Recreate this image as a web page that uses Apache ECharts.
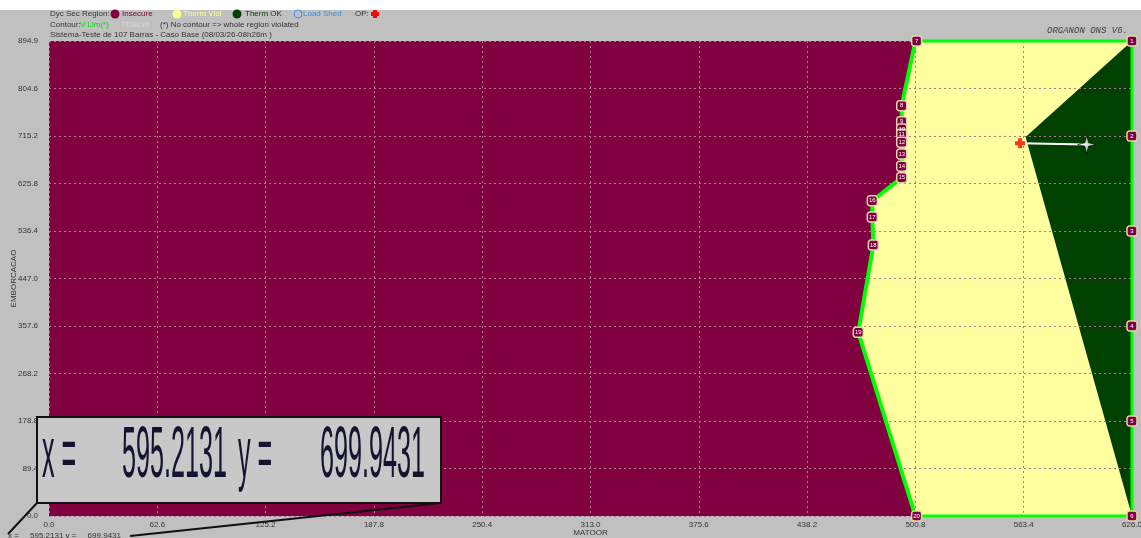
<!DOCTYPE html>
<html><head><meta charset="utf-8">
<script src="https://cdn.jsdelivr.net/npm/echarts@6/dist/echarts.min.js"></script>
<style>html,body{margin:0;padding:0;background:#c0c0c0;overflow:hidden}#c{width:1141px;height:538px;}</style>
</head><body><div id="c"></div>
<script>
// ---- data ----
const xTickLabels = ['0.0','62.6','125.2','187.8','250.4','313.0','375.6','438.2','500.8','563.4','626.0'];
const yTickLabels = ['0.0','89.4','178.8','268.2','357.6','447.0','536.4','625.8','715.2','804.6','894.9'];
const xMax = 626.0, yMax = 894.9;

// security boundary (V Lim contour), top to bottom
const boundaryX = [500.8, 492.9, 492.9, 492.9, 492.9, 492.9, 492.9, 492.9, 492.9, 475.9, 475.9, 476.5, 467.8, 500.8];
const boundaryY = [894.9, 773.0, 742.8, 729.1, 719.0, 704.1, 682.0, 658.8, 637.4, 594.0, 563.3, 510.6, 346.1, 0.0];

// numbered boundary points
const markerX = [501.5, 492.9, 492.9, 492.9, 492.9, 492.9, 492.9, 492.9, 492.9, 475.9, 475.9, 476.5, 467.8, 501.5, 626.0, 626.0, 626.0, 626.0, 626.0, 626.0];
const markerY = [894.9, 773.0, 742.8, 729.1, 719.0, 704.1, 682.0, 658.8, 637.4, 594.0, 563.3, 510.6, 346.1, 0.0, 894.9, 715.9, 536.9, 358.0, 179.0, 0.0];
const markerLabels = ['7','8','9','10','11','12','13','14','15','16','17','18','19','20','1','2','3','4','5','6'];

// thermal OK region
const thermOkX = [626.0, 564.5, 626.0];
const thermOkY = [894.9, 714.0, 0.0];

// operating point and cursor
const opX = [561.3], opY = [702.2];
const cursorX = [599.8], cursorY = [699.9];

// ---- build ----
const C_INSECURE = '#800040', C_VIOL = '#ffffa0', C_OK = '#004000', C_LINE = '#00ff00';

function poly(xs, ys, color, z) {
  return {
    type: 'custom', coordinateSystem: 'cartesian2d', z: z, silent: true, clip: false,
    data: xs.map((x, i) => [x, ys[i]]),
    renderItem: function (params, api) {
      if (params.dataIndex !== 0) return null;
      const pts = xs.map((x, i) => api.coord([x, ys[i]]));
      return { type: 'polygon', shape: { points: pts }, style: { fill: color } };
    }
  };
}

const insecX = [0, 0].concat(boundaryX, [0]);
const insecY = [0, yMax].concat(boundaryY, [0]);
const violX = boundaryX.concat([xMax, xMax]);
const violY = boundaryY.concat([0, yMax]);

const frameX = [boundaryX[0], xMax, xMax, boundaryX[boundaryX.length - 1]];
const frameY = [yMax, yMax, 0, 0];

const FONT = '"Liberation Sans", Arial, sans-serif';
function t(x, y, text, fill, size) {
  return { type: 'text', x: x, y: y, z: 50,
    style: { text: text, fill: fill, font: (size || 8) + 'px ' + FONT, verticalAlign: 'middle', align: 'left' } };
}
function big(x, text) {
  return { type: 'text', x: x, y: 457, scaleX: 0.35, z: 61,
    style: { text: text, fill: '#141430', font: '72px ' + FONT, verticalAlign: 'middle', align: 'left' } };
}

const graphics = [
  { type: 'rect', shape: { x: 0, y: 0, width: 1141, height: 10 }, style: { fill: '#ffffff' }, z: 40 },
  t(50, 14, 'Dyc Sec Region:', '#333'),
  { type: 'circle', shape: { cx: 115, cy: 14, r: 4.5 }, style: { fill: C_INSECURE }, z: 50 },
  t(122, 14, 'Insecure', C_INSECURE),
  { type: 'circle', shape: { cx: 177, cy: 14, r: 4.5 }, style: { fill: '#ffff90' }, z: 50 },
  t(183, 14, 'Therm Viol', '#ffff90'),
  { type: 'circle', shape: { cx: 237, cy: 14, r: 4.5 }, style: { fill: '#004000' }, z: 50 },
  t(245, 14, 'Therm OK', '#004000'),
  { type: 'circle', shape: { cx: 298, cy: 14, r: 4 }, style: { fill: 'none', stroke: '#3090ff', lineWidth: 1 }, z: 50 },
  t(303, 14, 'Load Shed', '#3090ff'),
  t(355, 14, 'OP:', '#333'),
  { type: 'polygon', shape: { points: [[373,10],[377,10],[377,12],[379,12],[379,16],[377,16],[377,18],[373,18],[373,16],[371,16],[371,12],[373,12]] }, style: { fill: '#ff0000' }, z: 50 },
  t(50, 25, 'Contour:', '#333'),
  t(80, 25, 'V Lim(*)', '#00e000'),
  t(121, 25, 'TDSCrit', '#d8d8d8'),
  t(160, 25, '(*) No contour => whole region violated', '#333'),
  t(50, 35, 'Sistema-Teste de 107 Barras - Caso Base (08/03/26-08h26m )', '#333'),
  { type: 'text', x: 1047, y: 31, z: 50, style: { text: 'ORGANON ONS V6.', fill: '#404040', font: 'italic 9px "Liberation Mono", "DejaVu Sans Mono", monospace', verticalAlign: 'middle', align: 'left' } },
  // magnifier callout
  { type: 'rect', shape: { x: 37, y: 417, width: 404, height: 86 }, style: { fill: '#c8c8c8', stroke: '#111', lineWidth: 2 }, z: 60 },
  { type: 'line', shape: { x1: 37, y1: 503, x2: 8, y2: 534 }, style: { stroke: '#111', lineWidth: 2 }, z: 60 },
  { type: 'line', shape: { x1: 441, y1: 503, x2: 130, y2: 536 }, style: { stroke: '#111', lineWidth: 2 }, z: 60 },
  big(42, 'x ='),
  big(122, '595.2131'),
  big(238, 'y ='),
  big(320, '699.9431'),
  t(8, 536, 'x =     595.2131 y =     699.9431', '#333')
];

const chart = echarts.init(document.getElementById('c'), null, { renderer: 'canvas' });
chart.setOption({
  animation: false,
  backgroundColor: '#c0c0c0',
  grid: { left: 49, right: 9, top: 41, bottom: 22, containLabel: false, outerBoundsMode: 'none' },
  xAxis: {
    type: 'value', min: 0, max: xMax, interval: 62.6, z: 3,
    axisLine: { show: false }, axisTick: { show: false },
    splitLine: { show: true, lineStyle: { color: '#b07890', type: [2, 3], width: 1 } },
    axisLabel: { formatter: v => xTickLabels[Math.round(v / 62.6)], fontSize: 8, color: '#333', margin: 5, fontFamily: FONT },
    name: 'MATOOR', nameLocation: 'middle', nameGap: 13, nameMoveOverlap: false,
    nameTextStyle: { fontSize: 8, color: '#333', fontFamily: FONT }
  },
  yAxis: {
    type: 'value', min: 0, max: yMax, interval: yMax / 10, z: 3,
    axisLine: { show: false }, axisTick: { show: false },
    splitLine: { show: true, lineStyle: { color: '#b07890', type: [2, 3], width: 1 } },
    axisLabel: { formatter: v => yTickLabels[Math.round(v / (yMax / 10))], fontSize: 8, color: '#333', margin: 11, fontFamily: FONT },
    name: 'EMBORCACAO', nameLocation: 'middle', nameGap: 31, nameRotate: 90, nameMoveOverlap: false,
    nameTextStyle: { fontSize: 8, color: '#333', fontFamily: FONT }
  },
  graphic: { elements: graphics },
  series: [
    poly(violX, violY, C_VIOL, 1),
    poly(insecX, insecY, C_INSECURE, 1),
    poly(thermOkX, thermOkY, C_OK, 1),
    { type: 'line', data: boundaryX.map((x, i) => [x, boundaryY[i]]), symbol: 'none', clip: false, z: 5,
      lineStyle: { color: C_LINE, width: 4 }, silent: true },
    { type: 'line', data: frameX.map((x, i) => [x, frameY[i]]), symbol: 'none', clip: false, z: 5,
      lineStyle: { color: C_LINE, width: 3 }, silent: true },
    { type: 'line', data: [[opX[0], opY[0]], [cursorX[0], cursorY[0]]], symbol: 'none', clip: false, z: 6,
      lineStyle: { color: '#ffffff', width: 2 }, silent: true },
    { type: 'scatter', data: markerX.map((x, i) => [x, markerY[i]]), clip: false, z: 7, silent: true,
      symbol: 'roundRect', symbolSize: 10,
      itemStyle: { color: '#7a0040', borderColor: '#ead2a8', borderWidth: 1.5, opacity: 1 },
      label: { show: true, position: 'inside', formatter: p => markerLabels[p.dataIndex], fontSize: 6, color: '#fff', fontFamily: FONT } },
    { type: 'scatter', data: [[opX[0], opY[0]]], clip: false, z: 8, silent: true,
      symbol: 'path://M3,0H7V3H10V7H7V10H3V7H0V3H3Z', symbolSize: 10,
      itemStyle: { color: '#ff0000' } },
    { type: 'scatter', data: [[cursorX[0], cursorY[0]]], clip: false, z: 8, silent: true,
      symbol: 'path://M10,0 L12,8 L20,10 L12,12 L10,20 L8,12 L0,10 L8,8 Z', symbolSize: 18,
      itemStyle: { color: '#ffffff', borderColor: '#000', borderWidth: 0.8 } }
  ]
});
</script>
</body></html>
